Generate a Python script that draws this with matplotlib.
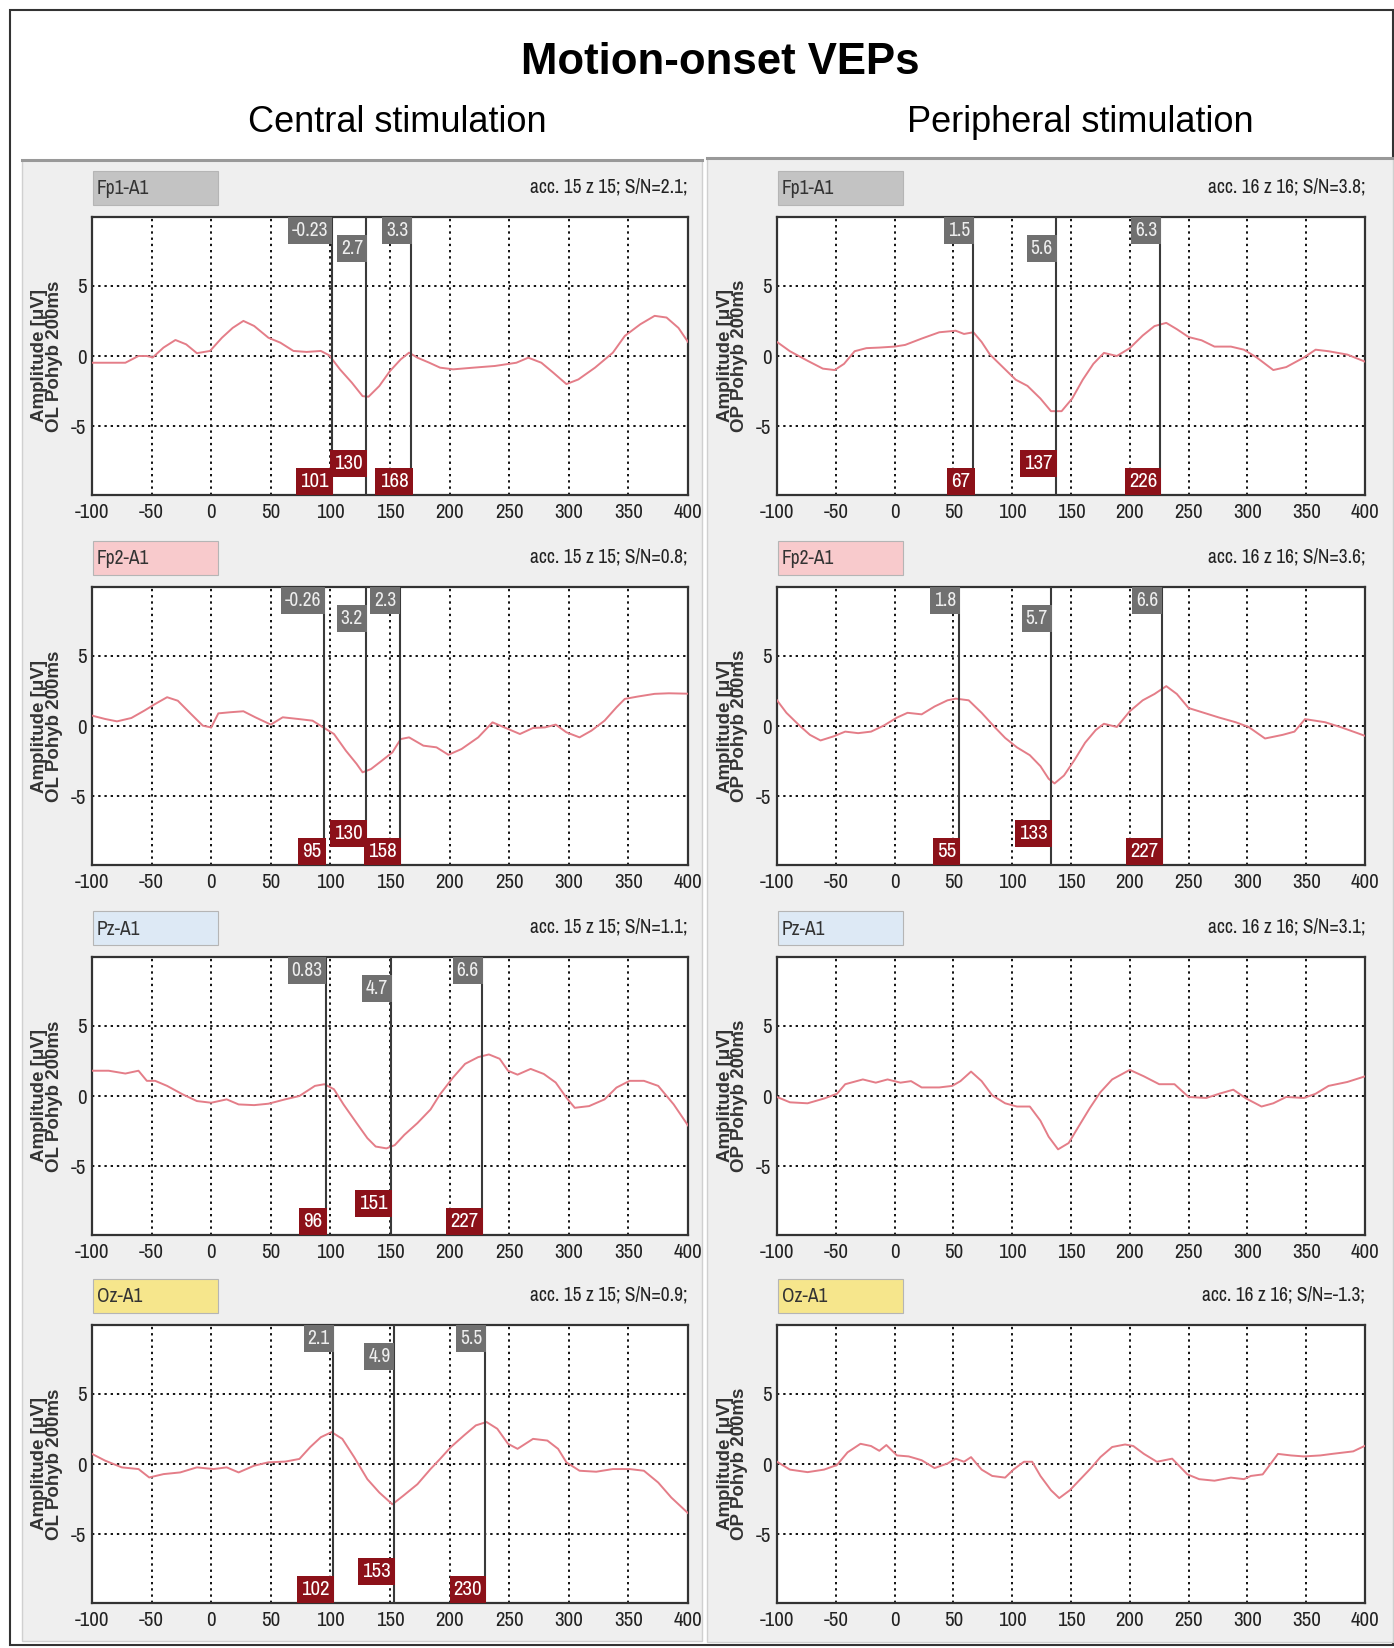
import numpy as np
import matplotlib
matplotlib.use('Agg')
import matplotlib.pyplot as plt
from matplotlib import font_manager
from matplotlib.patches import Rectangle
import matplotlib.transforms as mtransforms

plt.rcParams['axes.unicode_minus'] = False

# ---------------- data ----------------
t_c_fp1 = [-100, -72, -61, -54, -49, -40, -30, -21, -12, -1, 9, 18, 27, 36, 48, 58, 69, 80, 92, 99,
           108, 118, 127, 132, 141, 150, 159, 166, 173, 183, 192, 203, 220, 238, 256, 266, 277, 287,
           298, 308, 322, 337, 347, 360, 372, 382, 392, 400]
v_c_fp1 = [-0.48, -0.48, 0.0, 0.0, -0.1, 0.6, 1.14, 0.83, 0.2, 0.36, 1.3, 2.0, 2.5, 2.14, 1.3, 0.95, 0.36,
           0.29, 0.36, 0.05, -0.95, -1.9, -2.86, -2.9, -2.14, -1.07, -0.24, 0.24, -0.12, -0.48, -0.83,
           -0.95, -0.83, -0.71, -0.48, -0.12, -0.48, -1.19, -2.0, -1.67, -0.83, 0.24, 1.43, 2.26, 2.86,
           2.74, 2.0, 1.0]

t_c_fp2 = [-100, -89, -79, -67, -56, -47, -37, -28, -17, -7, 0, 6, 16, 27, 37, 50, 60, 73, 85, 94, 103,
           113, 122, 127, 134, 143, 152, 159, 166, 178, 189, 199, 210, 224, 236, 249, 259, 270, 280,
           289, 298, 309, 319, 330, 340, 347, 358, 372, 384, 400]
v_c_fp2 = [0.74, 0.5, 0.33, 0.57, 1.1, 1.57, 2.05, 1.8, 0.86, 0.02, -0.1, 0.9, 0.98, 1.05, 0.62, 0.1,
           0.62, 0.5, 0.38, -0.1, -0.57, -1.76, -2.7, -3.3, -3.07, -2.48, -1.88, -0.93, -0.81, -1.4,
           -1.52, -2.05, -1.64, -0.81, 0.26, -0.21, -0.57, -0.14, -0.1, 0.1, -0.45, -0.81, -0.33, 0.38,
           1.33, 1.93, 2.1, 2.29, 2.33, 2.3]

t_c_pz = [-100, -86, -72, -61, -54, -47, -37, -24, -12, 0, 13, 23, 36, 48, 62, 74, 87, 95, 103, 111,
          122, 131, 138, 147, 154, 162, 173, 184, 192, 203, 213, 224, 233, 242, 249, 257, 268, 279,
          289, 298, 305, 317, 330, 340, 351, 363, 375, 388, 400]
v_c_pz = [1.8, 1.8, 1.6, 1.8, 1.08, 1.08, 0.72, 0.12, -0.36, -0.48, -0.24, -0.6, -0.65, -0.55, -0.24,
          0.0, 0.72, 0.84, 0.48, -0.6, -1.93, -3.0, -3.6, -3.73, -3.5, -2.77, -1.93, -0.96, 0.12, 1.33,
          2.29, 2.77, 2.96, 2.65, 1.8, 1.52, 1.93, 1.57, 0.96, -0.12, -0.84, -0.72, -0.24, 0.6, 1.08,
          1.08, 0.72, -0.6, -2.1]

t_c_oz = [-100, -89, -75, -61, -52, -40, -26, -12, 2, 13, 23, 36, 48, 62, 74, 83, 92, 101, 110, 120,
          131, 141, 152, 161, 173, 184, 192, 201, 212, 222, 231, 240, 249, 257, 270, 282, 291, 298,
          309, 323, 337, 351, 363, 375, 386, 400]
v_c_oz = [0.72, 0.24, -0.24, -0.36, -0.96, -0.72, -0.6, -0.24, -0.36, -0.24, -0.6, -0.12, 0.12, 0.17,
          0.36, 1.2, 1.91, 2.27, 1.79, 0.48, -1.08, -2.03, -2.87, -2.27, -1.44, -0.36, 0.36, 1.2, 2.03,
          2.75, 2.99, 2.51, 1.44, 1.08, 1.79, 1.67, 1.08, 0.12, -0.48, -0.55, -0.36, -0.36, -0.48,
          -1.32, -2.39, -3.5]

t_p_fp1 = [-100, -89, -74, -61, -51, -43, -34, -24, -13, 0, 9, 23, 38, 52, 59, 67, 74, 81, 92, 103, 113,
           124, 133, 142, 151, 160, 169, 178, 189, 200, 211, 221, 231, 240, 250, 261, 272, 286, 297,
           308, 322, 333, 348, 358, 369, 385, 400]
v_p_fp1 = [1.0, 0.34, -0.34, -0.9, -1.0, -0.56, 0.34, 0.56, 0.6, 0.67, 0.79, 1.24, 1.69, 1.8, 1.57,
           1.69, 1.0, 0.11, -0.79, -1.69, -2.13, -3.03, -3.93, -3.93, -3.03, -1.69, -0.56, 0.22, 0.0,
           0.56, 1.46, 2.13, 2.36, 1.91, 1.35, 1.12, 0.67, 0.67, 0.45, -0.11, -1.0, -0.79, -0.11, 0.45,
           0.34, 0.1, -0.4]

t_p_fp2 = [-100, -92, -81, -72, -63, -52, -42, -31, -20, -9, 2, 11, 23, 34, 45, 52, 63, 74, 85, 94, 104,
           115, 124, 131, 136, 144, 153, 162, 171, 178, 189, 200, 211, 221, 231, 240, 250, 263, 276,
           290, 301, 315, 330, 340, 349, 366, 380, 400]
v_p_fp2 = [1.83, 0.94, 0.04, -0.63, -1.03, -0.74, -0.4, -0.51, -0.4, 0.04, 0.6, 0.94, 0.83, 1.39, 1.83,
           1.95, 1.83, 0.94, -0.07, -0.85, -1.52, -2.08, -2.86, -3.76, -4.09, -3.53, -2.42, -1.19,
           -0.29, 0.16, -0.07, 1.05, 1.83, 2.28, 2.84, 2.28, 1.28, 0.94, 0.6, 0.27, -0.07, -0.89,
           -0.63, -0.4, 0.49, 0.27, -0.1, -0.7]

t_p_pz = [-100, -89, -74, -60, -49, -42, -27, -16, -6, 5, 14, 23, 38, 49, 56, 65, 74, 83, 94, 104, 115,
          124, 131, 139, 148, 157, 166, 175, 185, 200, 212, 225, 238, 250, 265, 276, 288, 299, 312,
          322, 333, 348, 358, 369, 385, 400]
v_p_pz = [-0.07, -0.45, -0.52, -0.18, 0.16, 0.84, 1.18, 0.95, 1.18, 0.95, 1.06, 0.61, 0.61, 0.72,
          1.06, 1.74, 1.06, 0.05, -0.52, -0.75, -0.75, -1.76, -2.9, -3.8, -3.35, -2.1, -0.86, 0.27,
          1.18, 1.86, 1.4, 0.84, 0.84, -0.07, -0.14, 0.16, 0.45, -0.18, -0.75, -0.52, -0.07, -0.14,
          0.16, 0.72, 1.0, 1.4]

t_p_oz = [-100, -89, -74, -60, -49, -40, -29, -20, -13, -7, 2, 12, 23, 34, 45, 52, 59, 65, 74, 83, 94,
          101, 110, 117, 124, 133, 140, 149, 158, 167, 175, 185, 196, 203, 212, 223, 236, 249, 259,
          272, 286, 297, 303, 313, 326, 337, 348, 362, 372, 390, 400]
v_p_oz = [0.16, -0.4, -0.58, -0.4, -0.07, 0.83, 1.44, 1.28, 0.94, 1.35, 0.61, 0.54, 0.27, -0.29, 0.04,
          0.38, 0.16, 0.49, -0.4, -0.85, -0.97, -0.4, 0.16, 0.16, -0.85, -1.87, -2.43, -1.87, -1.08,
          -0.29, 0.49, 1.21, 1.39, 1.28, 0.72, 0.16, 0.38, -0.74, -1.08, -1.19, -0.97, -1.08, -0.85,
          -0.74, 0.72, 0.61, 0.54, 0.61, 0.72, 0.9, 1.3]

channels = ['Fp1-A1', 'Fp2-A1', 'Pz-A1', 'Oz-A1']
channel_colors = ['#c3c3c3', '#f8cacc', '#dde9f5', '#f6e68c']
sn_central = ['2.1', '0.8', '1.1', '0.9']
sn_peripheral = ['3.8', '3.6', '3.1', '-1.3']

# peak latencies (ms) and amplitudes (uV) marked by cursors
lat_central = [[101, 130, 168], [95, 130, 158], [96, 151, 227], [102, 153, 230]]
amp_central = [['-0.23', '2.7', '3.3'], ['-0.26', '3.2', '2.3'], ['0.83', '4.7', '6.6'],
               ['2.1', '4.9', '5.5']]
lat_peripheral = [[67, 137, 226], [55, 133, 227], [], []]
amp_peripheral = [['1.5', '5.6', '6.3'], ['1.8', '5.7', '6.6'], [], []]

central = [(t_c_fp1, v_c_fp1), (t_c_fp2, v_c_fp2), (t_c_pz, v_c_pz), (t_c_oz, v_c_oz)]
peripheral = [(t_p_fp1, v_p_fp1), (t_p_fp2, v_p_fp2), (t_p_pz, v_p_pz), (t_p_oz, v_p_oz)]


def has_font(name):
    try:
        font_manager.findfont(font_manager.FontProperties(family=name), fallback_to_default=False)
        return True
    except ValueError:
        return False


SANS = 'Liberation Sans'
NARROW, NS = 'Liberation Sans', 0.84
for cand in ['Liberation Sans Narrow', 'Arial Narrow', 'Archivo Narrow', 'PT Sans Narrow',
             'Pragati Narrow', 'Roboto Condensed', 'Open Sans Condensed', 'Fira Sans Condensed']:
    if has_font(cand):
        NARROW, NS = cand, 1.0
        break

W, H = 1394, 1648
fig = plt.figure(figsize=(W / 100, H / 100), dpi=100)
fig.patch.set_facecolor('white')


def px_rect(x, y, w, h, **kw):
    # rectangle in figure pixels (y from top)
    fig.patches.append(Rectangle((x / W, 1 - (y + h) / H), w / W, h / H,
                                 transform=fig.transFigure, figure=fig, **kw))


def fig_text(x, y, s, **kw):
    fig.text(x / W, 1 - y / H, s, **kw)


# outer frame and gray panels
px_rect(10, 10, 1383, 1635, fc='white', ec='#333333', lw=1.5, zorder=-3)
px_rect(22, 160, 680, 1481, fc='#efefef', ec='#d0d0d0', lw=1.0, zorder=-2)
px_rect(707, 158, 686, 1484, fc='#efefef', ec='#d0d0d0', lw=1.0, zorder=-2)
fig.add_artist(plt.Line2D([22 / W, 702 / W], [1 - 160 / H] * 2, color='#999999', lw=2.2, zorder=-1))
fig.add_artist(plt.Line2D([707 / W, 1393 / W], [1 - 158 / H] * 2, color='#999999', lw=2.2, zorder=-1))

fig_text(720, 62, 'Motion-onset VEPs', ha='center', va='center', fontsize=31.5,
         fontweight='bold', family=SANS)
fig_text(397, 123, 'Central stimulation', ha='center', va='center', fontsize=26, family=SANS)
fig_text(1080, 123, 'Peripheral stimulation', ha='center', va='center', fontsize=26, family=SANS)

rows_top = [217, 587, 957, 1325]
ax_h = 278
cols = [(92, 596, 'OL', '15 z 15', central, lat_central, amp_central, sn_central),
        (777, 588, 'OP', '16 z 16', peripheral, lat_peripheral, amp_peripheral, sn_peripheral)]

for left, width, side, acc, curves, lats, amps, sns in cols:
    for i, top in enumerate(rows_top):
        ax = fig.add_axes([left / W, 1 - (top + ax_h) / H, width / W, ax_h / H])
        ax.set_facecolor('white')
        t, v = curves[i]
        ax.plot(t, v, color='#e47d88', lw=1.4, zorder=3)
        ax.set_xlim(-100, 400)
        ax.set_ylim(-9.9, 9.9)
        ax.set_xticks(np.arange(-100, 401, 50))
        ax.set_yticks([-5, 0, 5])
        ax.grid(True, color='#111111', linestyle=(0, (1.2, 2.0)), lw=1.4)
        ax.tick_params(length=0, pad=6, labelsize=15 * NS, colors='#222222')
        for lab in ax.get_xticklabels() + ax.get_yticklabels():
            lab.set_family(NARROW)
        ax.tick_params(axis='y', pad=4)
        for sp in ax.spines.values():
            sp.set_color('#333333')
            sp.set_linewidth(1.6)

        # cursors with amplitude (gray) and latency (red) tags
        trans = mtransforms.blended_transform_factory(ax.transData, ax.transAxes)
        for k, (lat, amp) in enumerate(zip(lats[i], amps[i])):
            ax.axvline(lat, color='#3a3a3a', lw=1.5, zorder=4)
            drop = 13 if k == 1 else 0
            ax.annotate(amp, xy=(lat, 1), xycoords=trans, xytext=(-2.2, -2.8 - drop),
                        textcoords='offset points', ha='right', va='top', fontsize=14 * NS,
                        family=NARROW, color='#eeeeee', zorder=5,
                        bbox=dict(boxstyle='square,pad=0.2', fc='#707070', ec='none'))
            ax.annotate(str(lat), xy=(lat, 0), xycoords=trans, xytext=(-2.2, 2.8 + drop),
                        textcoords='offset points', ha='right', va='bottom', fontsize=15 * NS,
                        family=NARROW, color='white', zorder=5,
                        bbox=dict(boxstyle='square,pad=0.2', fc='#8c1119', ec='none'))

        # channel tag and averaging info
        off = top - 217
        px_rect(left + 1, 171 + off, 125, 34, fc=channel_colors[i], ec='#b5b5b5', lw=0.8, zorder=1)
        fig_text(left + 5, 189 + off, channels[i], ha='left', va='center', fontsize=14 * NS,
                 family=NARROW, color='#333333')
        fig_text(left + width, 187 + off, 'acc. %s; S/N=%s;' % (acc, sns[i]), ha='right',
                 va='center', fontsize=14 * NS, family=NARROW, color='#222222')
        fig_text(left - 52, top + ax_h / 2, 'Amplitude [\u03bcV]', ha='center', va='center',
                 rotation=90, fontsize=13.5, fontweight='bold', family=SANS, color='#333333')
        fig_text(left - 37, top + ax_h / 2, '%s Pohyb 200ms' % side, ha='center', va='center',
                 rotation=90, fontsize=13.5, fontweight='bold', family=SANS, color='#333333')

fig.savefig('out.png', dpi=100)
